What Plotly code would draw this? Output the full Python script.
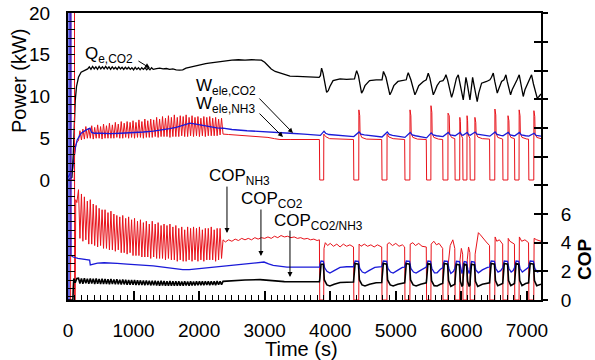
import plotly.graph_objects as go

# ---------------- data ----------------
# Shared time grid of the start-up oscillation (s)
t_osc = [160, 182, 205, 227, 250, 272, 295, 317, 340, 362,
         385, 407, 430, 452, 475, 497, 520, 542, 565, 587,
         610, 632, 655, 677, 700, 722, 745, 767, 790, 812,
         835, 857, 880, 902, 925, 947, 970, 992, 1015, 1037,
         1060, 1082, 1105, 1127, 1150, 1172, 1195, 1217, 1240, 1262,
         1285, 1307, 1330, 1352, 1375, 1397, 1420, 1442, 1465, 1487,
         1510, 1532, 1555, 1577, 1600, 1622, 1645, 1667, 1690, 1712,
         1735, 1757, 1780, 1802, 1825, 1847, 1870, 1892, 1915, 1937,
         1960, 1982, 2005, 2027, 2050, 2072, 2095, 2117, 2140, 2162,
         2185, 2207, 2230, 2252, 2275, 2297, 2320, 2342]

cop_nh3_osc = [7.7, 4.3, 7.4, 4.1, 7.2, 4.2, 6.9, 3.9, 7.0, 3.9,
               6.7, 3.8, 6.6, 3.7, 6.4, 3.8, 6.3, 3.6, 6.3, 3.6,
               6.1, 3.5, 6.2, 3.5, 6.0, 3.4, 5.9, 3.5, 5.8, 3.3,
               5.9, 3.3, 5.7, 3.2, 5.8, 3.3, 5.6, 3.1, 5.7, 3.1,
               5.5, 3.1, 5.6, 3.0, 5.4, 3.0, 5.5, 3.0, 5.3, 2.9,
               5.5, 3.0, 5.3, 2.9, 5.4, 2.9, 5.2, 2.9, 5.3, 2.8,
               5.2, 2.9, 5.3, 2.8, 5.1, 2.8, 5.2, 2.7, 5.0, 2.8,
               5.1, 2.7, 4.9, 2.7, 5.1, 2.8, 5.0, 2.7, 5.1, 2.8,
               5.0, 2.7, 5.1, 2.8, 4.9, 2.7, 5.0, 2.8, 5.0, 2.8,
               5.1, 2.8, 4.9, 2.7, 5.0, 2.8, 5.0, 2.9]

w_nh3_osc = [4.7, 5.9, 4.8, 6.1, 4.9, 6.4, 5.0, 6.2, 5.0, 6.5,
             4.9, 6.3, 5.0, 6.6, 5.0, 6.4, 4.9, 6.7, 5.0, 6.5,
             5.0, 6.8, 5.0, 6.6, 5.0, 6.9, 5.1, 6.7, 5.0, 7.0,
             5.0, 6.8, 5.1, 7.0, 5.0, 6.9, 5.1, 7.1, 5.0, 6.9,
             5.1, 7.2, 5.1, 7.0, 5.0, 7.3, 5.1, 7.1, 5.1, 7.3,
             5.1, 7.2, 5.2, 7.5, 5.1, 7.3, 5.2, 7.6, 5.2, 7.4,
             5.2, 7.7, 5.1, 7.5, 5.2, 7.8, 5.2, 7.5, 5.2, 7.7,
             5.3, 7.6, 5.2, 7.8, 5.2, 7.5, 5.3, 7.7, 5.2, 7.5,
             5.3, 7.6, 5.2, 7.4, 5.3, 7.6, 5.2, 7.5, 5.3, 7.6,
             5.3, 7.4, 5.3, 7.5, 5.3, 7.3, 5.4, 7.4]

cop_tot_osc = [1.52, 1.15, 1.50, 1.14, 1.52, 1.16, 1.49, 1.13, 1.51, 1.15,
               1.48, 1.12, 1.50, 1.14, 1.47, 1.12, 1.48, 1.11, 1.46, 1.12,
               1.45, 1.10, 1.46, 1.11, 1.44, 1.09, 1.45, 1.10, 1.42, 1.08,
               1.43, 1.09, 1.41, 1.07, 1.40, 1.06, 1.39, 1.06, 1.40, 1.05,
               1.38, 1.05, 1.37, 1.04, 1.36, 1.03, 1.37, 1.04, 1.35, 1.02,
               1.34, 1.02, 1.35, 1.01, 1.33, 1.00, 1.34, 1.01, 1.32, 1.00,
               1.31, 0.99, 1.32, 1.00, 1.30, 0.99, 1.31, 1.00, 1.30, 1.00,
               1.29, 0.99, 1.30, 1.01, 1.29, 1.00, 1.30, 1.02, 1.29, 1.01,
               1.30, 1.03, 1.31, 1.04, 1.30, 1.03, 1.31, 1.05, 1.30, 1.04,
               1.31, 1.05, 1.30, 1.04, 1.32, 1.06, 1.31, 1.07]

# Qe,CO2 (kW)
qe_head = [(0, 0.0), (60, 0.3), (80, 3.0), (95, 7.0), (110, 9.5), (130, 11.2),
           (160, 12.3), (200, 12.9), (260, 13.2), (300, 13.3)]
t_qe_zig = [325, 350, 375, 400, 425, 450, 475, 500, 525, 550,
            575, 600, 625, 650, 675, 700, 725, 750, 775, 800,
            825, 850, 875, 900, 925, 950, 975, 1000, 1025, 1050,
            1075, 1100, 1125, 1150, 1175, 1200, 1225, 1250, 1275, 1300]
qe_zig = [13.55, 13.25, 13.6, 13.3, 13.55, 13.25, 13.6, 13.3, 13.55, 13.3,
          13.6, 13.3, 13.55, 13.25, 13.55, 13.3, 13.5, 13.25, 13.55, 13.3,
          13.5, 13.25, 13.5, 13.3, 13.5, 13.25, 13.45, 13.2, 13.5, 13.25,
          13.45, 13.2, 13.45, 13.25, 13.45, 13.2, 13.4, 13.2, 13.45, 13.25]
qe_tail = [(1350, 13.35), (1400, 13.4), (1450, 13.3), (1500, 13.35), (1550, 13.25),
           (1600, 13.3), (1650, 13.2), (1700, 13.15), (1750, 13.2), (1800, 13.4),
           (1850, 13.5), (1900, 13.6), (1950, 13.7), (2000, 13.8), (2050, 13.85),
           (2100, 13.95), (2150, 14.0), (2200, 14.05), (2250, 14.15), (2300, 14.2),
           (2350, 14.25), (2400, 14.3), (2500, 14.35), (2600, 14.4), (2700, 14.35),
           (2800, 14.4), (2900, 14.35), (2950, 14.35), (3000, 14.1), (3050, 13.7),
           (3100, 13.3), (3160, 13.0), (3233, 12.8), (3300, 12.6), (3386, 12.45),
           (3500, 12.4), (3600, 12.35), (3700, 12.3), (3830, 12.3),
           (3850, 12.5), (3868, 13.4), (3890, 12.8), (3945, 10.5), (3970, 10.7),
           (3995, 11.2), (4043, 11.9), (4150, 12.1), (4250, 12.05), (4370, 12.1),
           (4385, 12.6), (4403, 13.1), (4430, 12.5), (4478, 10.4), (4500, 10.7),
           (4530, 11.3), (4600, 11.9), (4700, 12.0), (4790, 12.0),
           (4800, 12.5), (4812, 13.0), (4850, 12.3), (4910, 10.2), (4935, 10.6),
           (4970, 11.3), (5033, 11.8), (5120, 11.9), (5160, 12.0),
           (5175, 12.5), (5190, 12.85), (5230, 12.0), (5292, 10.2), (5315, 10.6),
           (5350, 11.3), (5420, 11.8), (5465, 12.0),
           (5480, 12.4), (5495, 12.8), (5520, 12.2), (5572, 10.2), (5595, 10.6),
           (5630, 11.3), (5673, 11.8), (5720, 11.9),
           (5745, 12.2), (5765, 12.6), (5790, 12.0), (5851, 9.9), (5875, 10.5),
           (5905, 11.5), (5925, 12.2),
           (5953, 12.6), (5975, 11.8), (6029, 9.6), (6045, 10.6), (6060, 11.8),
           (6070, 12.3), (6090, 11.5), (6131, 9.6), (6145, 10.5), (6160, 11.6),
           (6172, 12.3), (6195, 11.3), (6242, 9.4), (6265, 10.4), (6309, 11.6),
           (6385, 11.8), (6436, 12.0),
           (6460, 12.3), (6487, 12.8), (6510, 11.8), (6548, 10.4), (6570, 10.9),
           (6614, 11.8), (6650, 12.0),
           (6680, 12.6), (6700, 11.8), (6751, 10.2), (6775, 10.8), (6817, 11.6),
           (6850, 12.0),
           (6883, 12.6), (6905, 11.6), (6944, 10.0), (6970, 10.8), (7020, 11.6),
           (7045, 12.0),
           (7071, 12.6), (7100, 11.5), (7157, 9.8), (7185, 10.0), (7215, 10.3)]

# Wele,CO2 (kW)
w_co2 = [(0, 0.3), (40, 0.8), (70, 1.3), (90, 2.5), (110, 3.8), (140, 4.8),
         (200, 5.6), (280, 6.0), (335, 6.2), (360, 5.7), (400, 5.6), (500, 5.6),
         (650, 5.55), (800, 5.6), (1000, 5.65), (1150, 5.75), (1300, 5.85),
         (1450, 6.0), (1550, 6.15), (1650, 6.3), (1750, 6.55), (1860, 6.8),
         (1950, 6.7), (2050, 6.55), (2165, 6.4), (2270, 6.25), (2365, 6.2),
         (2500, 6.05), (2730, 5.9), (2900, 5.8), (3100, 5.7), (3386, 5.6),
         (3600, 5.5), (3840, 5.35),
         (3850, 5.35), (3905, 5.85), (3930, 5.6), (3980, 5.45), (4100, 5.35),
         (4250, 5.3), (4360, 5.2),
         (4440, 5.75), (4470, 5.5), (4520, 5.4), (4650, 5.3), (4790, 5.15),
         (4870, 5.75), (4900, 5.45), (4950, 5.35), (5050, 5.25), (5140, 5.1),
         (5220, 5.7), (5250, 5.4), (5300, 5.3), (5400, 5.15), (5470, 5.05),
         (5540, 5.65), (5570, 5.4), (5620, 5.3), (5720, 5.2),
         (5800, 5.7), (5830, 5.4), (5905, 5.3),
         (5980, 5.7), (6005, 5.4), (6025, 5.35),
         (6090, 5.7), (6110, 5.45), (6135, 5.35),
         (6210, 5.75), (6240, 5.5), (6300, 5.4), (6435, 5.25),
         (6515, 5.75), (6545, 5.45), (6600, 5.35), (6635, 5.3),
         (6715, 5.7), (6745, 5.4), (6800, 5.3), (6815, 5.3),
         (6885, 5.7), (6915, 5.4), (6980, 5.3), (7030, 5.25),
         (7110, 5.6), (7140, 5.35), (7215, 5.25)]

# Wele,NH3 (kW)
w_nh3_head = [(0, 0.0), (95, 0.0), (100, 3.0), (120, 4.2), (140, 4.6)]
w_nh3_tail = [(2365, 5.5), (2450, 5.45), (2600, 5.35), (2750, 5.3), (2930, 5.2),
              (3050, 5.1), (3150, 4.95), (3233, 4.85), (3400, 4.85), (3600, 4.85),
              (3835, 4.85),
              (3840, 0), (3900, 0), (3902, 5.5), (3930, 5.2), (3990, 4.95), (4100, 4.9), (4355, 4.85),
              (4360, 0), (4435, 0), (4437, 8.4), (4450, 7.7), (4455, 5.6), (4480, 5.1), (4550, 4.9), (4785, 4.85),
              (4790, 0), (4865, 0), (4867, 5.5), (4895, 5.15), (4960, 4.95), (5135, 4.85),
              (5140, 0), (5215, 0), (5217, 8.4), (5230, 7.7), (5235, 5.6), (5260, 5.1), (5330, 4.9), (5465, 4.85),
              (5470, 0), (5535, 0), (5537, 8.9), (5550, 8.1), (5555, 5.6), (5580, 5.1), (5650, 4.9), (5715, 4.85),
              (5720, 0), (5795, 0), (5797, 8.0), (5815, 7.7), (5822, 5.5), (5850, 5.1), (5900, 4.95),
              (5905, 0), (5975, 0), (5977, 7.5), (5985, 7.0), (5990, 5.5), (6005, 5.1), (6020, 5.0),
              (6025, 0), (6085, 0), (6087, 7.7), (6095, 7.1), (6100, 5.5), (6115, 5.1), (6130, 5.0),
              (6135, 0), (6205, 0), (6207, 7.5), (6220, 6.9), (6225, 5.6), (6250, 5.15), (6320, 4.95), (6430, 4.9),
              (6435, 0), (6510, 0), (6512, 8.5), (6525, 7.8), (6530, 5.6), (6555, 5.1), (6630, 4.9),
              (6635, 0), (6710, 0), (6712, 7.7), (6725, 7.1), (6730, 5.6), (6755, 5.1), (6810, 4.95),
              (6815, 0), (6880, 0), (6882, 8.4), (6895, 7.7), (6900, 5.6), (6925, 5.1), (7000, 4.9), (7025, 4.9),
              (7030, 0), (7105, 0), (7107, 8.3), (7120, 7.6), (7125, 5.6), (7150, 5.1), (7215, 4.95)]

# COP_NH3
cop_nh3_head = [(0, 0.0), (40, 0.0), (43, 30.0), (98, 30.0), (101, 0.0), (110, 0.0),
                (118, 7.0), (135, 6.8)]
cop_nh3_tail = [(2365, 4.2), (2400, 4.05), (2450, 4.2), (2500, 4.1), (2550, 4.25),
                (2600, 4.15), (2650, 4.3), (2700, 4.2), (2750, 4.3), (2800, 4.2),
                (2850, 4.35), (2900, 4.25), (2950, 4.35), (3000, 4.3), (3050, 4.4),
                (3100, 4.3), (3150, 4.45), (3200, 4.35), (3250, 4.5), (3300, 4.4),
                (3350, 4.45), (3400, 4.35), (3450, 4.4), (3500, 4.3), (3550, 4.35),
                (3600, 4.25), (3650, 4.3), (3700, 4.2), (3750, 4.25), (3800, 4.15),
                (3835, 4.2),
                (3840, 0), (3900, 0), (3905, 3.6), (3925, 4.0), (3960, 3.8), (4000, 3.95),
                (4050, 3.75), (4100, 3.9), (4150, 3.7), (4200, 3.9), (4250, 3.75),
                (4300, 3.85), (4355, 3.7),
                (4360, 0), (4435, 0), (4440, 3.9), (4470, 3.75), (4520, 3.9), (4570, 3.75),
                (4620, 3.85), (4670, 3.7), (4720, 3.85), (4785, 3.7),
                (4790, 0), (4865, 0), (4870, 3.9), (4900, 4.0), (4950, 3.8), (5000, 3.95),
                (5050, 3.75), (5100, 3.85), (5135, 3.7),
                (5140, 0), (5215, 0), (5220, 3.9), (5260, 4.0), (5300, 3.8), (5350, 3.95),
                (5400, 3.75), (5465, 3.7),
                (5470, 0), (5535, 0), (5540, 3.9), (5580, 4.1), (5620, 3.85), (5660, 3.95),
                (5715, 3.6),
                (5720, 0), (5795, 0), (5800, 2.5), (5830, 3.8), (5870, 4.2), (5900, 3.6),
                (5905, 0), (5975, 0), (5980, 2.8), (6000, 3.6), (6020, 3.2),
                (6025, 0), (6085, 0), (6090, 2.8), (6110, 3.7), (6130, 3.3),
                (6135, 0), (6205, 0), (6210, 3.2), (6240, 4.3), (6260, 4.7), (6290, 4.55),
                (6330, 4.3), (6380, 4.05), (6430, 3.8),
                (6435, 0), (6510, 0), (6515, 4.4), (6540, 4.1), (6580, 4.2), (6630, 3.9),
                (6635, 0), (6710, 0), (6715, 4.3), (6740, 4.1), (6780, 4.0), (6810, 3.9),
                (6815, 0), (6880, 0), (6885, 4.4), (6920, 4.1), (6970, 4.2), (7025, 4.0),
                (7030, 0), (7105, 0), (7110, 4.3), (7150, 4.2), (7215, 4.1)]

# COP_CO2
cop_co2 = [(0, 0.0), (15, 0.0), (18, 30.0), (42, 30.0), (46, 3.1), (80, 3.0),
           (150, 2.9), (250, 2.82), (330, 2.78), (340, 2.45), (380, 2.5), (450, 2.58),
           (550, 2.6), (640, 2.6), (750, 2.56), (900, 2.5), (1000, 2.48), (1145, 2.45),
           (1300, 2.38), (1450, 2.3), (1600, 2.2), (1750, 2.12), (1850, 2.12),
           (2013, 2.2), (2150, 2.25), (2318, 2.33), (2500, 2.42), (2600, 2.48),
           (2730, 2.55), (2850, 2.62), (2930, 2.67), (2990, 2.65), (3060, 2.52),
           (3130, 2.42), (3250, 2.35), (3340, 2.3), (3500, 2.3), (3700, 2.3), (3840, 2.3),
           (3845, 2.5), (3860, 2.72), (3895, 2.7), (3915, 2.25), (3950, 2.0), (3995, 1.88),
           (4060, 2.05), (4150, 2.28), (4250, 2.32), (4355, 2.32),
           (4365, 2.5), (4380, 2.72), (4430, 2.7), (4450, 2.2), (4490, 1.95), (4530, 1.88),
           (4590, 2.05), (4680, 2.28), (4785, 2.32),
           (4795, 2.5), (4810, 2.72), (4860, 2.7), (4880, 2.2), (4920, 1.95), (4960, 1.88),
           (5020, 2.05), (5100, 2.28), (5135, 2.3),
           (5145, 2.5), (5160, 2.72), (5210, 2.7), (5230, 2.2), (5270, 1.95), (5310, 1.88),
           (5370, 2.05), (5440, 2.28), (5465, 2.3),
           (5475, 2.5), (5490, 2.72), (5530, 2.7), (5550, 2.2), (5590, 1.9), (5630, 1.9),
           (5680, 2.15), (5715, 2.25),
           (5725, 2.5), (5740, 2.72), (5790, 2.7), (5810, 2.2), (5840, 1.85), (5880, 2.0),
           (5900, 2.2),
           (5910, 2.5), (5925, 2.7), (5970, 2.68), (5990, 2.1), (6010, 1.85), (6022, 2.1),
           (6030, 2.5), (6045, 2.68), (6080, 2.65), (6100, 2.1), (6120, 1.85), (6132, 2.1),
           (6140, 2.5), (6155, 2.68), (6200, 2.65), (6220, 2.1), (6260, 1.9), (6320, 2.1),
           (6400, 2.28), (6430, 2.3),
           (6440, 2.5), (6455, 2.72), (6505, 2.7), (6525, 2.2), (6560, 1.95), (6600, 2.05),
           (6630, 2.25),
           (6640, 2.5), (6655, 2.72), (6705, 2.7), (6725, 2.2), (6760, 1.95), (6790, 2.05),
           (6810, 2.25),
           (6820, 2.5), (6835, 2.72), (6875, 2.7), (6895, 2.2), (6930, 1.95), (6980, 2.1),
           (7025, 2.28),
           (7035, 2.5), (7050, 2.72), (7100, 2.7), (7120, 2.2), (7160, 1.95), (7190, 2.0),
           (7215, 2.05)]

# COP_CO2/NH3
cop_tot_head = [(0, 0.0), (75, 0.0), (80, 0.8), (88, 1.5), (110, 1.2), (135, 1.5)]
cop_tot_tail = [(2365, 1.3), (2500, 1.35), (2700, 1.4), (2930, 1.42), (3050, 1.38),
                (3150, 1.32), (3300, 1.28), (3500, 1.27), (3835, 1.27),
                (3842, 1.5), (3860, 2.5), (3895, 2.5), (3910, 1.4), (3950, 1.05), (3995, 0.98),
                (4060, 1.1), (4150, 1.22), (4355, 1.25),
                (4362, 1.5), (4380, 2.55), (4430, 2.5), (4445, 1.4), (4485, 1.05), (4530, 0.98),
                (4600, 1.1), (4700, 1.2), (4785, 1.22),
                (4792, 1.5), (4810, 2.55), (4860, 2.5), (4875, 1.4), (4915, 1.05), (4960, 0.98),
                (5030, 1.1), (5135, 1.2),
                (5142, 1.5), (5160, 2.55), (5210, 2.5), (5225, 1.4), (5265, 1.05), (5310, 0.98),
                (5380, 1.1), (5465, 1.2),
                (5472, 1.5), (5490, 2.55), (5530, 2.5), (5545, 1.35), (5585, 1.0), (5630, 0.98),
                (5680, 1.1), (5715, 1.15),
                (5722, 1.5), (5740, 2.55), (5790, 2.5), (5805, 1.35), (5840, 0.95), (5880, 1.05),
                (5900, 1.1),
                (5907, 1.5), (5925, 2.5), (5970, 2.45), (5985, 1.3), (6010, 0.95), (6022, 1.05),
                (6027, 1.5), (6045, 2.5), (6080, 2.45), (6095, 1.3), (6120, 0.95), (6132, 1.05),
                (6137, 1.5), (6155, 2.5), (6200, 2.45), (6215, 1.3), (6250, 0.95), (6320, 1.1),
                (6430, 1.2),
                (6437, 1.5), (6455, 2.55), (6505, 2.5), (6520, 1.35), (6555, 1.0), (6600, 1.1),
                (6630, 1.15),
                (6637, 1.5), (6655, 2.55), (6705, 2.5), (6720, 1.35), (6755, 1.0), (6790, 1.1),
                (6810, 1.15),
                (6817, 1.5), (6835, 2.55), (6875, 2.5), (6890, 1.35), (6925, 1.0), (6980, 1.15),
                (7025, 1.2),
                (7032, 1.5), (7050, 2.55), (7100, 2.5), (7115, 1.35), (7150, 1.0), (7190, 1.05),
                (7215, 1.1)]

# axis ticks
time_ticks = [0, 1000, 2000, 3000, 4000, 5000, 6000, 7000]
kw_ticks = list(range(-14, 21))
kw_labels = [str(v) if v in (0, 5, 10, 15, 20) else "" for v in kw_ticks]
cop_ticks = [0, 2, 4, 6, 8, 10, 12, 14, 16, 18, 20]
cop_labels = ["0", "2", "4", "6", "", "", "", "", "", "", ""]

# ---------------- build series ----------------
def unzip(pairs):
    return [p[0] for p in pairs], [p[1] for p in pairs]

tq = unzip(qe_head)[0] + t_qe_zig + unzip(qe_tail)[0]
vq = unzip(qe_head)[1] + qe_zig + unzip(qe_tail)[1]
twc, vwc = unzip(w_co2)
twn = unzip(w_nh3_head)[0] + t_osc + unzip(w_nh3_tail)[0]
vwn = unzip(w_nh3_head)[1] + w_nh3_osc + unzip(w_nh3_tail)[1]
tcn = unzip(cop_nh3_head)[0] + t_osc + unzip(cop_nh3_tail)[0]
vcn = unzip(cop_nh3_head)[1] + cop_nh3_osc + unzip(cop_nh3_tail)[1]
tcc, vcc = unzip(cop_co2)
tct = unzip(cop_tot_head)[0] + t_osc + unzip(cop_tot_tail)[0]
vct = unzip(cop_tot_head)[1] + cop_tot_osc + unzip(cop_tot_tail)[1]

RED = "#e8121a"
BLUE = "#1a1ad8"
BLACK = "#000000"
FONT = "Liberation Sans, Arial, sans-serif"

fig = go.Figure()
fig.add_trace(go.Scatter(x=twn, y=vwn, mode="lines", line=dict(color=RED, width=1), yaxis="y"))
fig.add_trace(go.Scatter(x=tcn, y=vcn, mode="lines", line=dict(color=RED, width=1), yaxis="y2"))
fig.add_trace(go.Scatter(x=twc, y=vwc, mode="lines", line=dict(color=BLUE, width=1.3), yaxis="y"))
fig.add_trace(go.Scatter(x=tcc, y=vcc, mode="lines", line=dict(color=BLUE, width=1.3), yaxis="y2"))
fig.add_trace(go.Scatter(x=tq, y=vq, mode="lines", line=dict(color=BLACK, width=1.3), yaxis="y"))
fig.add_trace(go.Scatter(x=tct, y=vct, mode="lines", line=dict(color=BLACK, width=1.6), yaxis="y2"))

L, R, T, B = 68, 541, 13, 300
def px(xp):
    return (xp - L) / (R - L)
def py(yp):
    return (B - yp) / (B - T)

ann = []
def label(text, x0, yc, size=17):
    ann.append(dict(text=text, x=px(x0), y=py(yc), xref="paper", yref="paper",
                    xanchor="left", yanchor="middle", showarrow=False,
                    font=dict(family=FONT, size=size, color="black")))

label("Q<sub>e,CO2</sub>", 83, 55)
label("W<sub>ele,CO2</sub>", 194, 87)
label("W<sub>ele,NH3</sub>", 194, 105)
label("COP<sub>NH3</sub>", 207, 177)
label("COP<sub>CO2</sub>", 239, 200)
label("COP<sub>CO2/NH3</sub>", 272, 222)

def arrow(x, y, yref, ax, ay):
    ann.append(dict(text="", x=x, y=y, xref="x", yref=yref, ax=ax, ay=ay,
                    showarrow=True, arrowhead=2, arrowsize=1, arrowwidth=1,
                    arrowcolor="black", standoff=0))

arrow(1250, 13.4, "y", -13, -8)
arrow(3431, 5.63, "y", -35, -36)
arrow(3279, 5.15, "y", -25, -25)
arrow(2425, 4.67, "y2", 0, -48)
arrow(2943, 3.07, "y2", 0, -48)
arrow(3386, 1.6, "y2", 0, -48)

ann.append(dict(text="Power (kW)", x=px(19), y=py(81), xref="paper", yref="paper",
                textangle=-90, showarrow=False, xanchor="center", yanchor="middle",
                font=dict(family=FONT, size=20, color="black")))
ann.append(dict(text="Time (s)", x=px(301), y=py(349), xref="paper", yref="paper",
                showarrow=False, xanchor="center", yanchor="middle",
                font=dict(family=FONT, size=20, color="black")))
ann.append(dict(text="<b>COP</b>", x=px(584), y=py(259), xref="paper", yref="paper",
                textangle=-90, showarrow=False, xanchor="center", yanchor="middle",
                font=dict(family=FONT, size=19, color="black")))

fig.update_layout(
    width=595, height=360,
    margin=dict(l=L, r=595 - R, t=T, b=360 - B, pad=0, autoexpand=False),
    paper_bgcolor="white", plot_bgcolor="white",
    showlegend=False,
    font=dict(family=FONT, size=19, color="black"),
    annotations=ann,
    xaxis=dict(range=[0, 7215], tickmode="array", tickvals=time_ticks,
               ticks="inside", ticklen=9, tickwidth=1.5, tickcolor="black",
               minor=dict(dtick=100, tick0=0, ticks="inside", ticklen=5, tickwidth=1, tickcolor="black"),
               showline=True, linewidth=2, linecolor="black", mirror=True,
               showgrid=False, zeroline=False, ticklabelstandoff=12, automargin=False,
               tickfont=dict(size=19)),
    yaxis=dict(range=[-14.37, 20], tickmode="array", tickvals=kw_ticks, ticktext=kw_labels,
               ticks="inside", ticklen=7, tickwidth=1, tickcolor="black",
               showline=True, linewidth=2, linecolor="black", automargin=False,
               showgrid=False, zeroline=False, ticklabelstandoff=12,
               tickfont=dict(size=19)),
    yaxis2=dict(range=[0, 20.03], overlaying="y", side="right", anchor="x",
                tickmode="array", tickvals=cop_ticks, ticktext=cop_labels,
                ticks="outside", ticklen=5, tickwidth=1.5, tickcolor="black",
                showline=True, linewidth=2, linecolor="black", automargin=False,
                showgrid=False, zeroline=False, ticklabelstandoff=9,
                tickfont=dict(size=19)),
    yaxis3=dict(range=[0, 20.03], overlaying="y", side="right", anchor="x",
                tickmode="array", tickvals=cop_ticks, showticklabels=False,
                ticks="inside", ticklen=7, tickwidth=1.5, tickcolor="black", automargin=False,
                showline=False, showgrid=False, zeroline=False),
)
# invisible trace so yaxis3 (inner right ticks) is drawn
fig.add_trace(go.Scatter(x=[0], y=[0], mode="lines", yaxis="y3", line=dict(width=0),
                         hoverinfo="skip"))

fig.write_html("out.html", config={"displayModeBar": False},
               post_script="document.body.style.margin='0px';")
